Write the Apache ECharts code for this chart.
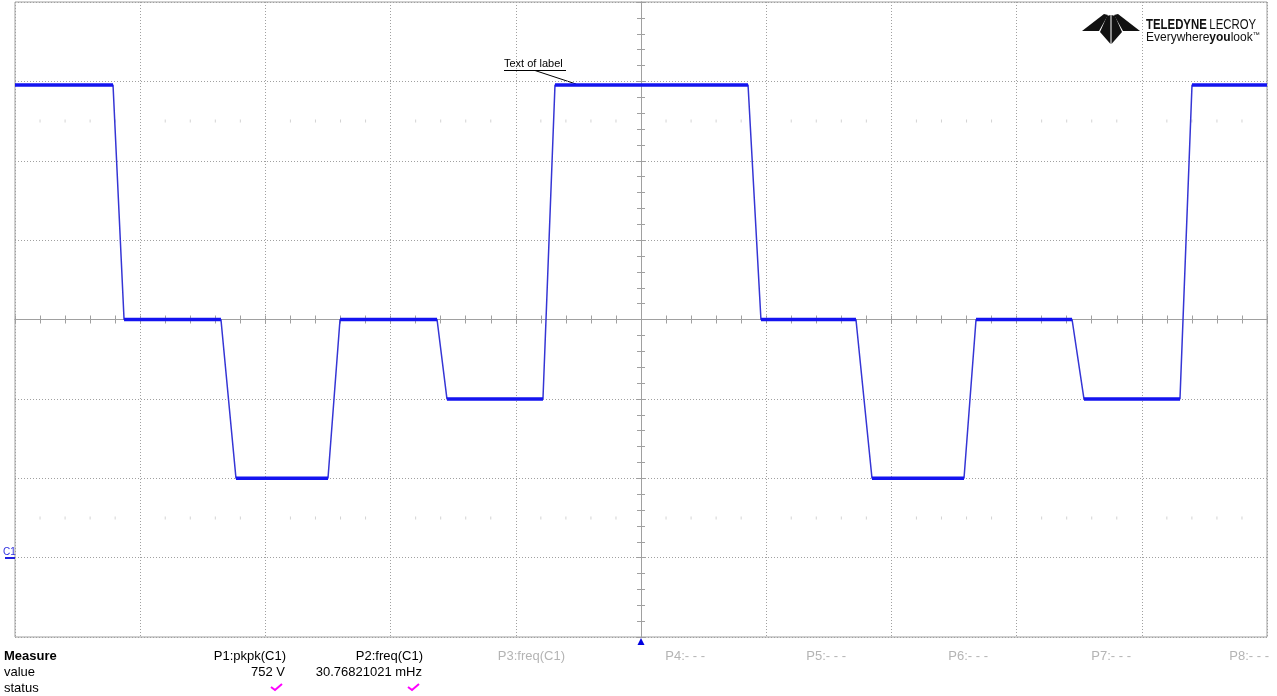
<!DOCTYPE html>
<html>
<head>
<meta charset="utf-8">
<script src="https://cdn.jsdelivr.net/npm/echarts@6/dist/echarts.min.js"></script>
<style>
html,body{margin:0;padding:0;background:#fff;}
#chart{width:1277px;height:696px;}
</style>
</head>
<body>
<div id="chart"></div>
<script>
// Time in divisions (centre = 0), voltage in V (150 V/div)
const times = [-5, -4.217, -4.129, -3.355, -3.235, -2.500, -2.404, -1.629, -1.550, -0.783, -0.687,
               0.855, 0.958, 1.717, 1.845, 2.580, 2.676, 3.443, 3.538, 4.305, 4.401, 5];
const volts = [443, 443, 0, 0, -300, -300, 0, 0, -150, -150, 443,
               443, 0, 0, -300, -300, 0, 0, -150, -150, 443, 443];

const measureLabels = ['P1:pkpk(C1)', 'P2:freq(C1)', 'P3:freq(C1)', 'P4:- - -', 'P5:- - -', 'P6:- - -', 'P7:- - -', 'P8:- - -'];
const measureValues = ['752 V', '30.76821021 mHz', '', '', '', '', '', ''];
const measureActive = [true, true, false, false, false, false, false, false];
const labelText = 'Text of label';

const X_MIN = -5, X_MAX = 5, Y_MIN = -600, Y_MAX = 600, Y_DIV = 150;

const trace = times.map((t, i) => [t, volts[i]]);
const flats = [];
for (let i = 0; i < times.length - 1; i++) {
  if (volts[i] === volts[i + 1]) {
    flats.push([times[i], volts[i]], [times[i + 1], volts[i + 1]], [null, null]);
  }
}
// faint graticule marks at +-2.5 div
const faint = [];
for (let k = 0; k <= 50; k++) {
  const x = X_MIN + k * 0.2;
  if (Math.abs(x - Math.round(x)) < 1e-6) continue;
  faint.push([x, 2.5 * Y_DIV], [x, -2.5 * Y_DIV]);
}

const gray = '#a0a0a0';
const FONT = 'Arial, "Liberation Sans", sans-serif';

const chart = echarts.init(document.getElementById('chart'), null, {renderer: 'canvas'});

function crossX(pos, split) {
  return {
    type: 'value', min: X_MIN, max: X_MAX, interval: 1, position: pos,
    axisLine: {show: true, onZero: true, onZeroAxisIndex: 0, lineStyle: {color: gray, width: 1}},
    axisTick: {show: true, length: 4, lineStyle: {color: gray}},
    minorTick: {show: true, splitNumber: 5, length: 4, lineStyle: {color: gray}},
    axisLabel: {show: false},
    splitLine: {show: split, lineStyle: {color: gray, type: [1, 2], width: 1}}
  };
}
function crossY(pos, split) {
  return {
    type: 'value', min: Y_MIN, max: Y_MAX, interval: Y_DIV, position: pos,
    axisLine: {show: true, onZero: true, onZeroAxisIndex: 0, lineStyle: {color: gray, width: 1}},
    axisTick: {show: true, length: 4, lineStyle: {color: gray}},
    minorTick: {show: true, splitNumber: 5, length: 4, lineStyle: {color: gray}},
    axisLabel: {show: false},
    splitLine: {show: split, lineStyle: {color: gray, type: [1, 2], width: 1}}
  };
}

const graphics = [];
// Measurement table
graphics.push({type: 'text', x: 4, y: 656, style: {text: 'Measure', font: 'bold 13px ' + FONT, fill: '#000', textVerticalAlign: 'middle'}});
graphics.push({type: 'text', x: 4, y: 672, style: {text: 'value', font: '13px ' + FONT, fill: '#000', textVerticalAlign: 'middle'}});
graphics.push({type: 'text', x: 4, y: 688, style: {text: 'status', font: '13px ' + FONT, fill: '#000', textVerticalAlign: 'middle'}});
const colRight = [286, 423, 565, 705, 846, 988, 1131, 1269];
measureLabels.forEach((lab, i) => {
  const c = measureActive[i] ? '#000' : '#b4b4b4';
  graphics.push({type: 'text', x: colRight[i], y: 656, style: {text: lab, font: '13px ' + FONT, fill: c, textAlign: 'right', textVerticalAlign: 'middle'}});
  if (measureValues[i]) {
    graphics.push({type: 'text', x: colRight[i] - 1, y: 672, style: {text: measureValues[i], font: '13px ' + FONT, fill: '#000', textAlign: 'right', textVerticalAlign: 'middle'}});
  }
  if (measureActive[i]) {
    const r = colRight[i] - 4;
    graphics.push({type: 'polyline', shape: {points: [[r - 11, 687], [r - 7, 690], [r, 684]]}, style: {stroke: '#ff00ff', lineWidth: 2, fill: null}});
  }
});
// Annotation label
graphics.push({type: 'text', x: 504, y: 64, style: {text: labelText, font: '11px ' + FONT, fill: '#000', textVerticalAlign: 'middle'}});
graphics.push({type: 'line', shape: {x1: 504, y1: 70.5, x2: 566, y2: 70.5}, style: {stroke: '#000', lineWidth: 1}});
graphics.push({type: 'line', shape: {x1: 535, y1: 70.5, x2: 576, y2: 84}, style: {stroke: '#000', lineWidth: 1}});
// C1 marker
graphics.push({type: 'text', x: 3, y: 552, style: {text: 'C1', font: '10px ' + FONT, fill: '#3030e0', textVerticalAlign: 'middle'}});
graphics.push({type: 'line', shape: {x1: 5, y1: 558, x2: 15, y2: 558}, style: {stroke: '#2020e0', lineWidth: 2}});
// trigger marker
graphics.push({type: 'polygon', shape: {points: [[641, 638], [637.5, 645], [644.5, 645]]}, style: {fill: '#0000e0'}});
// Logo
const logoFill = '#111';
graphics.push({type: 'polygon', shape: {points: [[1082, 31], [1104, 14], [1108, 15], [1099, 31]]}, style: {fill: logoFill}});
graphics.push({type: 'polygon', shape: {points: [[1107, 16], [1110.5, 15], [1110.5, 44], [1100, 32]]}, style: {fill: logoFill}});
graphics.push({type: 'polygon', shape: {points: [[1111.5, 15], [1115, 16], [1122, 32], [1111.5, 44]]}, style: {fill: logoFill}});
graphics.push({type: 'polygon', shape: {points: [[1114, 15], [1118, 14], [1140, 31], [1123, 31]]}, style: {fill: logoFill}});
graphics.push({type: 'text', x: 1146, y: 25, scaleX: 0.76, style: {
  text: '{b|TELEDYNE} {n|LECROY}', textVerticalAlign: 'middle',
  rich: {b: {font: 'bold 15px ' + FONT, fill: '#111'}, n: {font: '15px ' + FONT, fill: '#111'}}
}});
graphics.push({type: 'text', x: 1146, y: 38, style: {
  text: '{n|Everywhere}{b|you}{n|look}{s|™}', textVerticalAlign: 'middle',
  rich: {b: {font: 'bold 12px ' + FONT, fill: '#111'}, n: {font: '12px ' + FONT, fill: '#111'}, s: {font: '7px ' + FONT, fill: '#111', verticalAlign: 'top'}}
}});

chart.setOption({
  animation: false,
  backgroundColor: '#fff',
  grid: {left: 15, top: 2, width: 1252, height: 635, show: true, borderColor: gray, borderWidth: 1, backgroundColor: 'transparent'},
  xAxis: [crossX('bottom', true), crossX('top', false)],
  yAxis: [crossY('left', true), crossY('right', false)],
  series: [
    {type: 'scatter', data: faint, symbol: 'rect', symbolSize: [1, 3], itemStyle: {color: '#c8c8c8'}, silent: true, z: 1},
    {type: 'line', data: trace, showSymbol: false, symbol: 'none', lineStyle: {color: '#3535d5', width: 1.5}, z: 3, silent: true},
    {type: 'line', data: flats, showSymbol: false, symbol: 'none', connectNulls: false, lineStyle: {color: '#1414f0', width: 3.5}, z: 4, silent: true}
  ],
  graphic: graphics
});
</script>
</body>
</html>
